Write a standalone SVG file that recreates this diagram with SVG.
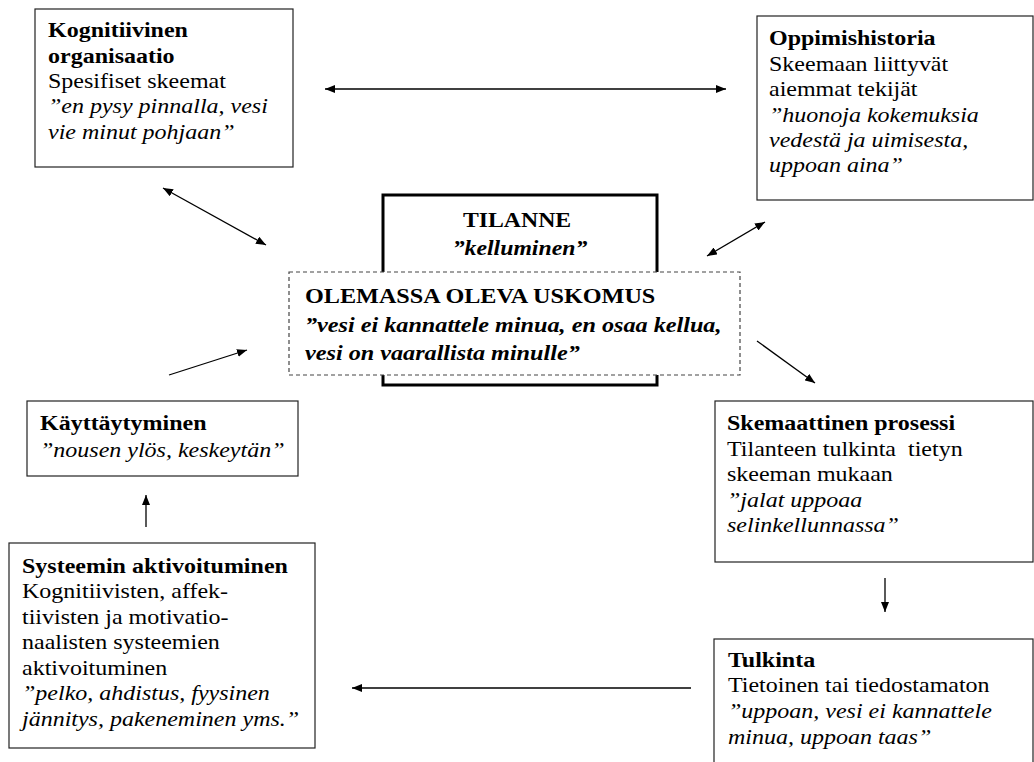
<svg xmlns="http://www.w3.org/2000/svg" width="1034" height="762" viewBox="0 0 1034 762">
  <defs>
    <marker id="arrow" viewBox="0 0 10 8" refX="10" refY="4" markerWidth="10" markerHeight="8" markerUnits="userSpaceOnUse" orient="auto-start-reverse">
      <path d="M0,0 L10,4 L0,8 z" fill="#000"/>
    </marker>
    <style>
      .box { fill: #fff; stroke: #222; stroke-width: 1.2; }
      .thick { fill: #fff; stroke: #000; stroke-width: 3; }
      .dash { fill: #fff; stroke: #444; stroke-width: 1.2; stroke-dasharray: 4 3; }
      .t { font-size: 20px; fill: #000; }
      .c { font-size: 22px; fill: #000; font-weight: bold; }
      .b { font-weight: bold; }
      .i { font-style: italic; }
      .conn line { stroke: #000; stroke-width: 1.3; fill: none; }
    </style>
  </defs>
  <rect width="1034" height="762" fill="#fff"/>

  <!-- connectors -->
  <g class="conn">
    <line x1="325" y1="89" x2="726" y2="89" marker-start="url(#arrow)" marker-end="url(#arrow)"/>
    <line x1="163" y1="188" x2="266" y2="245" marker-start="url(#arrow)" marker-end="url(#arrow)"/>
    <line x1="765" y1="222" x2="707" y2="256" marker-start="url(#arrow)" marker-end="url(#arrow)"/>
    <line x1="169" y1="375" x2="247" y2="350" marker-end="url(#arrow)"/>
    <line x1="757" y1="341" x2="815" y2="383" marker-end="url(#arrow)"/>
    <line x1="885" y1="578" x2="885" y2="612" marker-end="url(#arrow)"/>
    <line x1="691" y1="688" x2="352" y2="688" marker-end="url(#arrow)"/>
    <line x1="146" y1="527" x2="146" y2="495" marker-end="url(#arrow)"/>
  </g>

  <g font-family="'Liberation Serif', 'DejaVu Serif', serif">
  <!-- cognitive organisation -->
  <g id="kognitiivinen">
    <rect class="box" x="35" y="9" width="258" height="158"/>
    <text class="t" transform="translate(48 0) scale(1.2 1)">
      <tspan class="b" x="0" y="37">Kognitiivinen</tspan>
      <tspan class="b" x="0" y="63">organisaatio</tspan>
      <tspan x="0" y="88">Spesifiset skeemat</tspan>
      <tspan class="i" x="0" y="113">”en pysy pinnalla, vesi</tspan>
      <tspan class="i" x="0" y="139">vie minut pohjaan”</tspan>
    </text>
  </g>

  <!-- learning history -->
  <g id="oppimishistoria">
    <rect class="box" x="757" y="16" width="276" height="184"/>
    <text class="t" transform="translate(769 0) scale(1.2 1)">
      <tspan class="b" x="0" y="45">Oppimishistoria</tspan>
      <tspan x="0" y="71">Skeemaan liittyvät</tspan>
      <tspan x="0" y="96">aiemmat tekijät</tspan>
      <tspan class="i" x="0" y="122">”huonoja kokemuksia</tspan>
      <tspan class="i" x="0" y="147">vedestä ja uimisesta,</tspan>
      <tspan class="i" x="0" y="172">uppoan aina”</tspan>
    </text>
  </g>

  <!-- situation -->
  <g id="tilanne">
    <rect class="thick" x="383" y="195" width="274" height="190"/>
    <text class="c" text-anchor="middle" transform="translate(520 0) scale(1.08 1)">
      <tspan x="0" y="227">TILANNE</tspan>
      <tspan class="i" x="0" y="255">”kelluminen”</tspan>
    </text>
  </g>

  <!-- existing belief -->
  <g id="uskomus">
    <rect class="dash" x="289" y="272" width="451" height="103"/>
    <text class="c" transform="translate(305 0) scale(1.1 1)">
      <tspan x="0" y="303">OLEMASSA OLEVA USKOMUS</tspan>
      <tspan class="i" x="0" y="332">”vesi ei kannattele minua, en osaa kellua,</tspan>
      <tspan class="i" x="0" y="360">vesi on vaarallista minulle”</tspan>
    </text>
  </g>

  <!-- behaviour -->
  <g id="kayttaytyminen">
    <rect class="box" x="27" y="401" width="271" height="75"/>
    <text class="t" transform="translate(40 0) scale(1.2 1)">
      <tspan class="b" x="0" y="430">Käyttäytyminen</tspan>
      <tspan class="i" x="0" y="457">”nousen ylös, keskeytän”</tspan>
    </text>
  </g>

  <!-- system activation -->
  <g id="systeemi">
    <rect class="box" x="9" y="543" width="306" height="205"/>
    <text class="t" transform="translate(22 0) scale(1.2 1)">
      <tspan class="b" x="0" y="573">Systeemin aktivoituminen</tspan>
      <tspan x="0" y="598.5">Kognitiivisten, affek-</tspan>
      <tspan x="0" y="624">tiivisten ja motivatio-</tspan>
      <tspan x="0" y="649.5">naalisten systeemien</tspan>
      <tspan x="0" y="675">aktivoituminen</tspan>
      <tspan class="i" x="0" y="700.5">”pelko, ahdistus, fyysinen</tspan>
      <tspan class="i" x="0" y="726">jännitys, pakeneminen yms.”</tspan>
    </text>
  </g>

  <!-- schematic process -->
  <g id="skemaattinen">
    <rect class="box" x="715" y="401" width="318" height="161"/>
    <text class="t" transform="translate(727 0) scale(1.2 1)">
      <tspan class="b" x="0" y="430">Skemaattinen prosessi</tspan>
      <tspan x="0" y="456" xml:space="preserve">Tilanteen tulkinta  tietyn</tspan>
      <tspan x="0" y="481">skeeman mukaan</tspan>
      <tspan class="i" x="0" y="507">”jalat uppoaa</tspan>
      <tspan class="i" x="0" y="532">selinkellunnassa”</tspan>
    </text>
  </g>

  <!-- interpretation -->
  <g id="tulkinta">
    <rect class="box" x="714" y="639" width="319" height="140"/>
    <text class="t" transform="translate(728 0) scale(1.2 1)">
      <tspan class="b" x="0" y="667">Tulkinta</tspan>
      <tspan x="0" y="692">Tietoinen tai tiedostamaton</tspan>
      <tspan class="i" x="0" y="718">”uppoan, vesi ei kannattele</tspan>
      <tspan class="i" x="0" y="744">minua, uppoan taas”</tspan>
    </text>
  </g>
  </g>
</svg>
